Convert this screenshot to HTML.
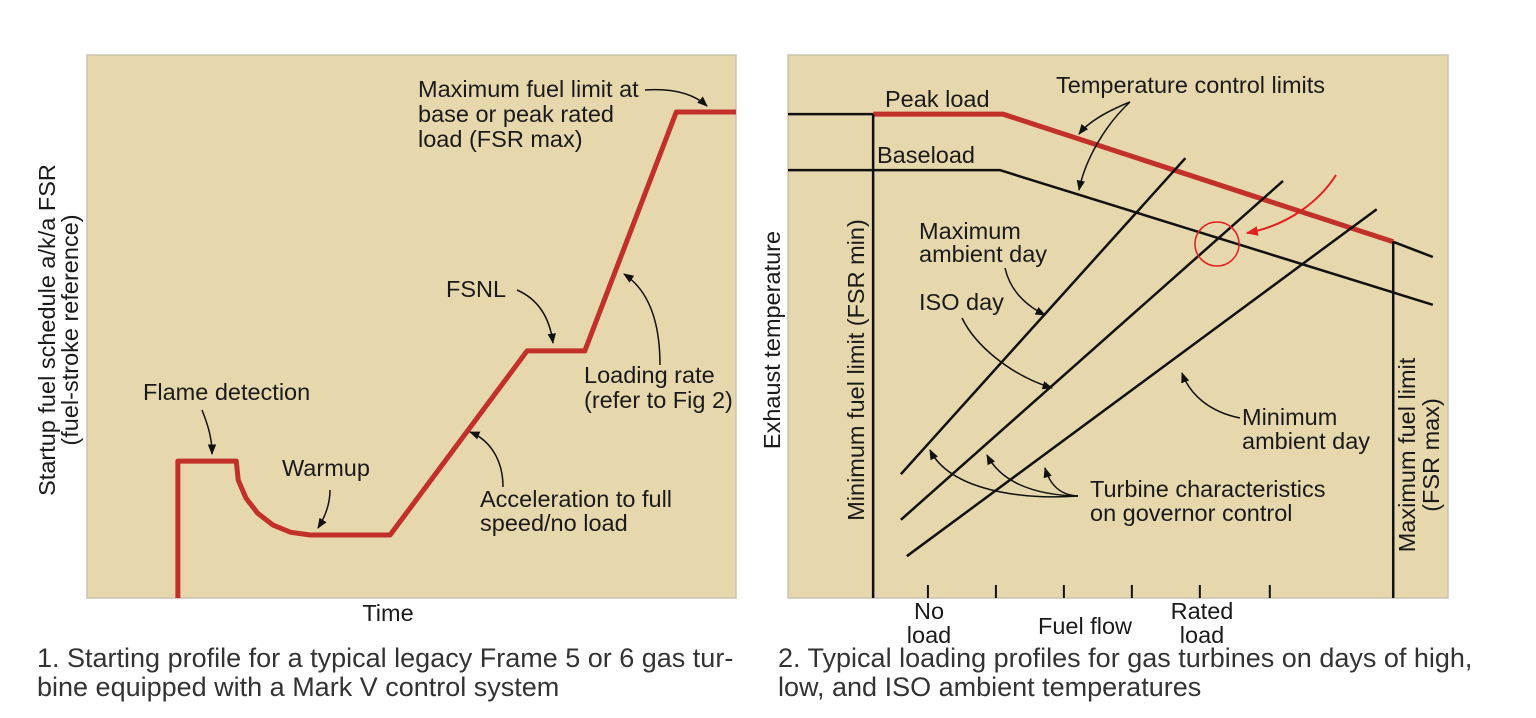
<!DOCTYPE html>
<html><head><meta charset="utf-8"><style>
html,body{margin:0;padding:0;background:#fff;}
svg{display:block;font-family:"Liberation Sans",sans-serif;}
.t{font-size:23.5px;fill:#1a1a1a;}
.cap{font-size:27px;fill:#333;}
.ann{fill:none;stroke:#111;stroke-width:1.5;}
</style></head><body>
<svg id="chart" width="1536" height="718" viewBox="0 0 1536 718">
<defs>
<marker id="ah" viewBox="0 0 10 10" refX="9" refY="5" markerWidth="7" markerHeight="7" orient="auto-start-reverse"><path d="M0,1 L10,5 L0,9 z" fill="#111"/></marker>
<marker id="ahr" viewBox="0 0 10 10" refX="9" refY="5" markerWidth="6" markerHeight="6" orient="auto"><path d="M0,1 L10,5 L0,9 z" fill="#e02020"/></marker>
</defs>
<rect x="87" y="55" width="649" height="543" fill="#e6d7ac" stroke="#c9c3b0" stroke-width="1.5"/>
<rect x="788" y="55" width="660" height="543" fill="#e6d7ac" stroke="#c9c3b0" stroke-width="1.5"/>
<g id="left"></g>
<g id="right"></g>

<g>
<text class="t" x="418" y="97"><tspan x="418">Maximum fuel limit at</tspan><tspan x="418" dy="25">base or peak rated</tspan><tspan x="418" dy="25">load (FSR max)</tspan></text>
<path class="ann" d="M645,90 C675,88 695,95 707,106" marker-end="url(#ah)"/>
<text class="t" x="446" y="297">FSNL</text>
<path class="ann" d="M517,290 C540,300 550,320 553,343" marker-end="url(#ah)"/>
<text class="t" x="584" y="383"><tspan x="584">Loading rate</tspan><tspan x="584" dy="25">(refer to Fig 2)</tspan></text>
<path class="ann" d="M660,365 C660,320 648,290 624,274" marker-end="url(#ah)"/>
<text class="t" x="143" y="400">Flame detection</text>
<path class="ann" d="M202,410 C208,425 212,438 212,454" marker-end="url(#ah)"/>
<text class="t" x="282" y="476">Warmup</text>
<path class="ann" d="M330,490 C330,505 325,517 318,528" marker-end="url(#ah)"/>
<text class="t" x="480" y="507"><tspan x="480">Acceleration to full</tspan><tspan x="480" dy="24">speed/no load</tspan></text>
<path class="ann" d="M503,487 C503,460 490,440 470,432" marker-end="url(#ah)"/>
<text class="t" transform="translate(55,330) rotate(-90)" text-anchor="middle">Startup fuel schedule a/k/a FSR</text>
<text class="t" transform="translate(78,330) rotate(-90)" text-anchor="middle">(fuel-stroke reference)</text>
<text class="t" x="388" y="621" text-anchor="middle">Time</text>
</g>

<g>
<text class="t" x="885" y="107">Peak load</text>
<text class="t" x="1056" y="93">Temperature control limits</text>
<path class="ann" d="M1130,102 C1110,110 1090,120 1079,134" marker-end="url(#ah)"/>
<path class="ann" d="M1130,102 C1105,125 1085,160 1079,190" marker-end="url(#ah)"/>
<text class="t" x="877" y="163">Baseload</text>
<text class="t" x="919" y="239"><tspan x="919">Maximum</tspan><tspan x="919" dy="23">ambient day</tspan></text>
<path class="ann" d="M1005,268 C1010,290 1025,305 1045,315" marker-end="url(#ah)"/>
<text class="t" x="919" y="310">ISO day</text>
<path class="ann" d="M962,318 C975,345 1010,375 1052,388" marker-end="url(#ah)"/>
<text class="t" x="1242" y="425"><tspan x="1242">Minimum</tspan><tspan x="1242" dy="24">ambient day</tspan></text>
<path class="ann" d="M1240,418 C1210,412 1190,395 1182,373" marker-end="url(#ah)"/>
<text class="t" x="1090" y="497"><tspan x="1090">Turbine characteristics</tspan><tspan x="1090" dy="24">on governor control</tspan></text>
<path class="ann" d="M1078,496 C1020,500 950,490 930,450" marker-end="url(#ah)"/>
<path class="ann" d="M1078,496 C1030,495 1000,480 987,455" marker-end="url(#ah)"/>
<path class="ann" d="M1078,496 C1060,495 1050,485 1045,468" marker-end="url(#ah)"/>
<circle cx="1217" cy="244" r="22" fill="none" stroke="#e02020" stroke-width="1.5"/>
<path d="M1336,175 C1320,200 1290,225 1247,233" fill="none" stroke="#e02020" stroke-width="2" marker-end="url(#ahr)"/>
<text class="t" transform="translate(780,340) rotate(-90)" text-anchor="middle">Exhaust temperature</text>
<text class="t" transform="translate(864,370) rotate(-90)" text-anchor="middle">Minimum fuel limit (FSR min)</text>
<text class="t" transform="translate(1415,455) rotate(-90)" text-anchor="middle">Maximum fuel limit</text>
<text class="t" transform="translate(1439,455) rotate(-90)" text-anchor="middle">(FSR max)</text>
<text class="t" x="929" y="619" text-anchor="middle"><tspan x="929">No</tspan><tspan x="929" dy="24">load</tspan></text>
<text class="t" x="1085" y="634" text-anchor="middle">Fuel flow</text>
<text class="t" x="1202" y="619" text-anchor="middle"><tspan x="1202">Rated</tspan><tspan x="1202" dy="24">load</tspan></text>
</g>

<text class="cap" x="37" y="667"><tspan x="37">1. Starting profile for a typical legacy Frame 5 or 6 gas tur-</tspan><tspan x="37" dy="29">bine equipped with a Mark V control system</tspan></text>
<text class="cap" x="778" y="667"><tspan x="778">2. Typical loading profiles for gas turbines on days of high,</tspan><tspan x="778" dy="29">low, and ISO ambient temperatures</tspan></text>
</svg>
<script>
// Left chart data (time 0..100, FSR 0..100)
const startTime = [14.0, 14.0, 23.0, 23.3, 24.5, 26.3, 28.7, 31.4, 34.4, 46.7, 67.8, 76.7, 90.8, 100];
const startFSR  = [0, 25.2, 25.2, 21.7, 18.4, 15.6, 13.4, 12.1, 11.6, 11.6, 45.5, 45.5, 89.5, 89.5];
// Right chart data (fuel flow 0..100, exhaust temp 0..100)
const peakFuel = [12.9, 32.6, 91.7];
const peakTemp = [89.1, 89.1, 65.6];
const peakPreFuel = [0, 12.9];
const peakPreTemp = [89.1, 89.1];
const peakPostFuel = [91.7, 97.7];
const peakPostTemp = [65.6, 62.8];
const baseFuel = [0, 32.1, 97.7];
const baseTemp = [78.8, 78.8, 54.0];
const maxAmbFuel = [17.1, 60.2];
const maxAmbTemp = [22.8, 81.0];
const isoFuel = [17.1, 75.0];
const isoTemp = [14.4, 76.8];
const minAmbFuel = [18.0, 89.2];
const minAmbTemp = [7.7, 71.6];
const minLimitFuel = 12.9;
const maxLimitFuel = 91.7;
const tickFuel = [21.2, 31.5, 41.8, 52.1, 62.4, 73.0];

const NS = 'http://www.w3.org/2000/svg';
const lx = v => 87 + v * 6.49, ly = v => 598 - v * 5.43;
const rx = v => 788 + v * 6.60, ry = v => 598 - v * 5.43;

function poly(parent, xs, ys, fx, fy, color, w, name) {
  const p = document.createElementNS(NS, 'polyline');
  p.setAttribute('points', xs.map((x, i) => fx(x) + ',' + fy(ys[i])).join(' '));
  p.setAttribute('fill', 'none');
  p.setAttribute('stroke', color);
  p.setAttribute('stroke-width', w);
  p.setAttribute('stroke-linejoin', 'round');
  
  
  parent.appendChild(p);
}
const L = document.getElementById('left'), R = document.getElementById('right');
poly(L, startTime, startFSR, lx, ly, '#c2302a', 5, 'startup-fsr-line');

poly(R, peakPreFuel, peakPreTemp, rx, ry, '#111', 2.5, 'peak-load-flat-black');
poly(R, peakFuel, peakTemp, rx, ry, '#c2302a', 5, 'peak-load-limit-line');
poly(R, peakPostFuel, peakPostTemp, rx, ry, '#111', 2.5, 'peak-load-extension');
poly(R, baseFuel, baseTemp, rx, ry, '#111', 2.5, 'baseload-limit-line');
poly(R, maxAmbFuel, maxAmbTemp, rx, ry, '#111', 2.5, 'max-ambient-day-line');
poly(R, isoFuel, isoTemp, rx, ry, '#111', 2.5, 'iso-day-line');
poly(R, minAmbFuel, minAmbTemp, rx, ry, '#111', 2.5, 'min-ambient-day-line');
poly(R, [minLimitFuel, minLimitFuel], [0, peakTemp[0]], rx, ry, '#111', 2.5, 'min-fuel-limit-line');
poly(R, [maxLimitFuel, maxLimitFuel], [0, peakTemp[2]], rx, ry, '#111', 2.5, 'max-fuel-limit-line');
tickFuel.forEach((t) => {
  const l = document.createElementNS(NS, 'line');
  l.setAttribute('x1', rx(t)); l.setAttribute('x2', rx(t));
  l.setAttribute('y1', 585); l.setAttribute('y2', 598);
  l.setAttribute('stroke', '#111'); l.setAttribute('stroke-width', 2);
  
  
  R.appendChild(l);
});
</script>
</body></html>
